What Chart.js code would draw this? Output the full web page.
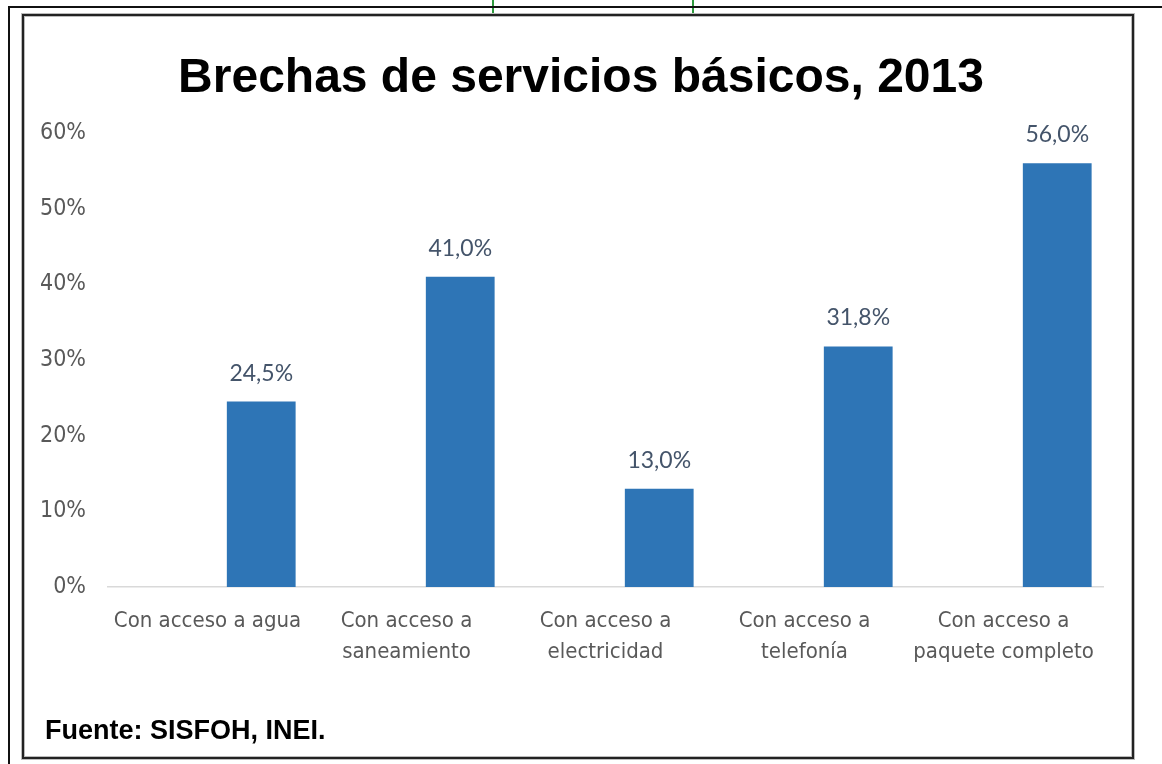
<!DOCTYPE html>
<html>
<head>
<meta charset="utf-8">
<script src="https://cdn.jsdelivr.net/npm/chart.js@4.4.1/dist/chart.umd.min.js"></script>
<style>
  html, body { margin: 0; padding: 0; background: #fff; }
  #wrap { position: relative; width: 1162px; height: 764px; }
</style>
</head>
<body>
<div id="wrap"><canvas id="grafico" width="1162" height="764"></canvas></div>
<script>
// datos del gráfico
const categorias = [
    ['Con acceso a agua'],
    ['Con acceso a', 'saneamiento'],
    ['Con acceso a', 'electricidad'],
    ['Con acceso a', 'telefonía'],
    ['Con acceso a', 'paquete completo']
];
const serieVacia = [null, null, null, null, null]; // primera serie sin datos
const brechas = [24.5, 41.0, 13.0, 31.8, 56.0];
const ticksY = [0, 10, 20, 30, 40, 50, 60];

const titulo = 'Brechas de servicios básicos, 2013';
const fuente = 'Fuente: SISFOH, INEI.';

const fuenteNarrow = "'Liberation Sans Narrow', 'Arial Narrow', 'DejaVu Sans Condensed', sans-serif";

// marcos, título y fuente
const marcoPlugin = {
    id: 'marco',
    beforeDraw(chart) {
        const ctx = chart.ctx;
        ctx.save();
        ctx.fillStyle = '#fff';
        ctx.fillRect(0, 0, chart.width, chart.height);
        // líneas verdes arriba
        ctx.strokeStyle = '#2e9a3e';
        ctx.lineWidth = 2;
        ctx.beginPath();
        ctx.moveTo(493, 0); ctx.lineTo(493, 15);
        ctx.moveTo(693, 0); ctx.lineTo(693, 15);
        ctx.stroke();
        // marco exterior
        ctx.strokeStyle = '#111';
        ctx.lineWidth = 2;
        ctx.beginPath();
        ctx.moveTo(1162, 7); ctx.lineTo(9, 7); ctx.lineTo(9, 764);
        ctx.stroke();
        // marco interior
        ctx.strokeStyle = '#bbb';
        ctx.lineWidth = 4;
        ctx.strokeRect(23, 15, 1110, 743);
        ctx.strokeStyle = '#222';
        ctx.lineWidth = 2;
        ctx.strokeRect(23, 15, 1110, 743);
        ctx.restore();
    },
    afterDraw(chart) {
        const ctx = chart.ctx;
        ctx.save();
        ctx.fillStyle = '#000';
        ctx.font = "bold 48px 'Liberation Sans', Arial, sans-serif";
        ctx.textAlign = 'center';
        ctx.textBaseline = 'middle';
        ctx.fillText(titulo, 581, 79);
        ctx.font = "bold 27px 'Liberation Sans', Arial, sans-serif";
        ctx.textAlign = 'left';
        ctx.fillText(fuente, 45, 732);
        ctx.restore();
    }
};

// etiquetas de datos sobre las barras
const etiquetasPlugin = {
    id: 'etiquetas',
    afterDatasetsDraw(chart) {
        const ctx = chart.ctx;
        const meta = chart.getDatasetMeta(1);
        ctx.save();
        ctx.fillStyle = '#44546A';
        ctx.font = "23px Lato, 'Open Sans', sans-serif";
        ctx.textAlign = 'center';
        ctx.textBaseline = 'bottom';
        meta.data.forEach((bar, i) => {
            const txt = brechas[i].toFixed(1).replace('.', ',') + '%';
            ctx.fillText(txt, bar.x, bar.y - 17);
        });
        ctx.restore();
    }
};

new Chart(document.getElementById('grafico'), {
    type: 'bar',
    data: {
        labels: categorias,
        datasets: [
            { label: 'Serie 1', data: serieVacia, backgroundColor: '#2E75B6' },
            { label: 'Serie 2', data: brechas, backgroundColor: '#2E75B6' }
        ]
    },
    options: {
        responsive: false,
        animation: false,
        events: [],
        categoryPercentage: 1.08,
        barPercentage: 0.64,
        layout: { padding: { left: 23, right: 59, top: 133, bottom: 87 } },
        plugins: {
            legend: { display: false },
            tooltip: { enabled: false },
            title: { display: false }
        },
        scales: {
            x: {
                grid: { display: false, drawTicks: false },
                border: { display: true, color: '#D9D9D9', width: 1.5 },
                ticks: {
                    color: '#595959',
                    font: { family: fuenteNarrow, size: 22, lineHeight: 1.4 },
                    padding: 19,
                    maxRotation: 0,
                    autoSkip: false
                },
                afterFit: s => { s.height = 90; }
            },
            y: {
                min: 0,
                max: 60,
                grid: { display: false, drawTicks: false },
                border: { display: false },
                afterBuildTicks: s => { s.ticks = ticksY.map(v => ({ value: v })); },
                ticks: {
                    color: '#595959',
                    font: { family: fuenteNarrow, size: 23 },
                    padding: 22,
                    callback: v => v + '%'
                },
                afterFit: s => { s.width = 85; }
            }
        }
    },
    plugins: [marcoPlugin, etiquetasPlugin]
});
</script>
</body>
</html>
